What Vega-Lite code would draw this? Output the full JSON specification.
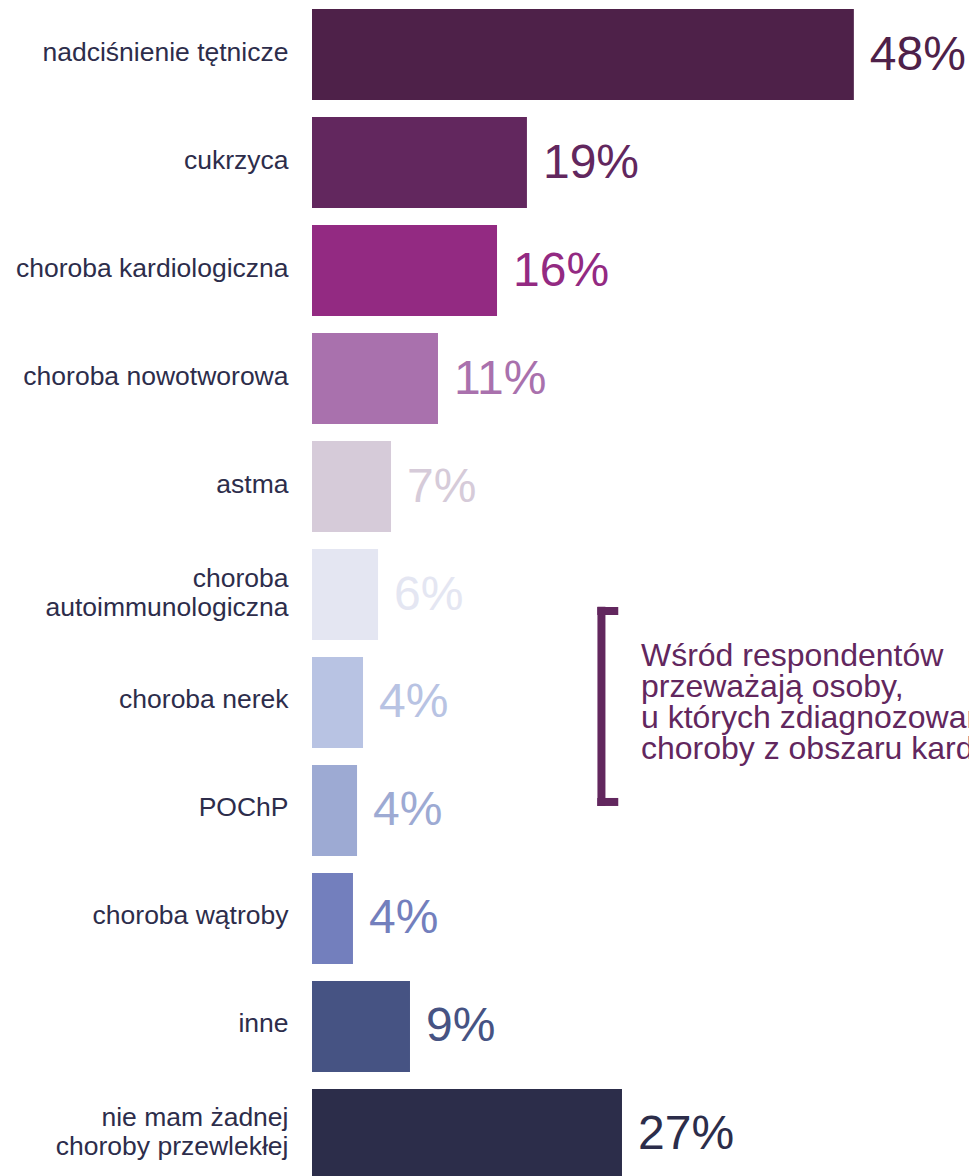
{
  "$schema": "https://vega.github.io/schema/vega-lite/v6.json",
  "width": 657,
  "height": 1189,
  "autosize": {"type": "none"},
  "padding": {"left": 312, "top": 0, "right": 0, "bottom": 0},
  "background": "white",
  "config": {"view": {"stroke": null}, "font": "Liberation Sans"},
  "datasets": {
    "bars": [
      {"category": "nadciśnienie tętnicze", "value": 48.0, "label": "48%"},
      {"category": "cukrzyca", "value": 19.04, "label": "19%"},
      {"category": "choroba kardiologiczna", "value": 16.39, "label": "16%"},
      {"category": "choroba nowotworowa", "value": 11.16, "label": "11%"},
      {"category": "astma", "value": 7.0, "label": "7%"},
      {"category": "choroba|autoimmunologiczna", "value": 5.85, "label": "6%"},
      {"category": "choroba nerek", "value": 4.52, "label": "4%"},
      {"category": "POChP", "value": 3.99, "label": "4%"},
      {"category": "choroba wątroby", "value": 3.63, "label": "4%"},
      {"category": "inne", "value": 8.68, "label": "9%"},
      {"category": "nie mam żadnej|choroby przewlekłej", "value": 27.46, "label": "27%"}
    ],
    "bracket": [
      {"x": 25.64, "x2": 25.64, "y": 5.113, "y2": 6.958},
      {"x": 25.27, "x2": 27.13, "y": 5.153, "y2": 5.153},
      {"x": 25.27, "x2": 27.13, "y": 6.921, "y2": 6.921}
    ],
    "note": [
      {"x": 29.14, "y": 5.662, "text": ["Wśród respondentów", "przeważają osoby,", "u których zdiagnozowano", "choroby z obszaru kardiologicznego"]}
    ]
  },
  "layer": [
    {
      "data": {"name": "bars"},
      "layer": [
        {
          "mark": {"type": "bar"},
          "encoding": {
            "y": {
              "field": "category", "type": "nominal", "sort": null, "title": null,
              "scale": {"paddingInner": 0.157, "paddingOuter": 0.0833},
              "axis": {
                "domain": false, "ticks": false, "labelPadding": 24,
                "labelFont": "Liberation Sans",
                "labelFontSize": 26.5, "labelColor": "#2d2d4b", "labelLineHeight": 29,
                "labelExpr": "split(datum.label, '|')", "labelLimit": 400,
                "labelOffset": {"condition": {"test": "indexof(datum.value, '|') >= 0", "value": -16}, "value": -2}
              }
            },
            "x": {
              "field": "value", "type": "quantitative", "axis": null,
              "scale": {"domain": [0, 58.2], "nice": false, "zero": true}
            },
            "color": {
              "field": "category", "type": "nominal", "legend": null, "sort": null,
              "scale": {
                "domain": ["nadciśnienie tętnicze", "cukrzyca", "choroba kardiologiczna", "choroba nowotworowa", "astma", "choroba|autoimmunologiczna", "choroba nerek", "POChP", "choroba wątroby", "inne", "nie mam żadnej|choroby przewlekłej"],
                "range": ["#4e2149", "#62275e", "#932a82", "#a971ad", "#d6cbd9", "#e4e6f2", "#b8c3e3", "#9daad3", "#737fbd", "#465383", "#2c2d4a"]
              }
            }
          }
        },
        {
          "mark": {"type": "text", "align": "left", "baseline": "middle", "dx": 16, "dy": 1, "fontSize": 48},
          "encoding": {
            "y": {"field": "category", "type": "nominal", "sort": null},
            "x": {"field": "value", "type": "quantitative"},
            "text": {"field": "label", "type": "nominal"},
            "color": {"field": "category", "type": "nominal", "legend": null, "sort": null}
          }
        }
      ]
    },
    {
      "layer": [
        {
          "data": {"name": "bracket"},
          "mark": {"type": "rule", "color": "#62275e", "strokeWidth": 8, "strokeCap": "butt"},
          "encoding": {
            "x": {"field": "x", "type": "quantitative"},
            "x2": {"field": "x2"},
            "y": {"field": "y", "type": "quantitative", "axis": null, "scale": {"domain": [-0.50463, 10.50463], "reverse": true, "nice": false, "zero": false}},
            "y2": {"field": "y2"}
          }
        },
        {
          "data": {"name": "note"},
          "mark": {"type": "text", "align": "left", "baseline": "alphabetic", "fontSize": 32, "lineHeight": 31, "color": "#62275e"},
          "encoding": {
            "x": {"field": "x", "type": "quantitative"},
            "y": {"field": "y", "type": "quantitative"},
            "text": {"field": "text"}
          }
        }
      ]
    }
  ],
  "resolve": {"scale": {"y": "independent", "color": "independent"}, "axis": {"y": "independent"}}
}
